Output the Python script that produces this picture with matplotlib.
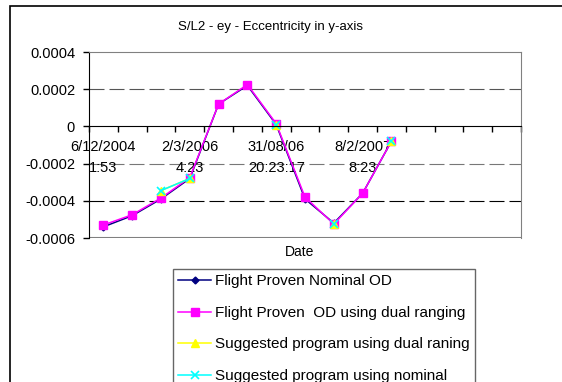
import numpy as np
import matplotlib
matplotlib.use('Agg')
import matplotlib.pyplot as plt
from matplotlib.patches import Rectangle

plt.rcParams['font.family'] = ['Liberation Sans', 'DejaVu Sans']

# Data (15 category slots, only the first 11 hold values)
n_slots = 15
nominal_od = [-0.00054, -0.00048, -0.00039, -0.00028, 0.00012, 0.00022,
              0.00001, -0.00039, -0.00052, -0.00036, -0.00008]
dual_ranging_od = [-0.00053, -0.000475, -0.000385, -0.000275, 0.00012, 0.000225,
                   0.000015, -0.00038, -0.000525, -0.00036, -0.00008]
sugg_dual = [np.nan, np.nan, -0.000345, -0.00028, np.nan, np.nan,
             0.00001, np.nan, -0.000525, np.nan, -0.00008]
sugg_nominal = [np.nan, np.nan, -0.000345, -0.00028, np.nan, np.nan,
                0.00001, np.nan, -0.000525, np.nan, -0.00008]
label_slots = [0, 3, 6, 9]
date_labels = ['6/12/2004\n1:53', '2/3/2006\n4:23', '31/08/06\n20:23:17', '8/2/2007\n8:23']
series_names = ['Flight Proven Nominal OD', 'Flight Proven  OD using dual ranging',
                'Suggested program using dual raning', 'Suggested program using nominal']

W, H = 562, 382
fig = plt.figure(figsize=(W / 100, H / 100), dpi=100)

# outer chart border (chart is cropped on right/bottom)
fig.patches.append(Rectangle((10 / W, -0.2), 1.2, 1.2 - 6 / H,
                             transform=fig.transFigure, fill=False,
                             edgecolor='black', linewidth=1.2))

ax = fig.add_axes([89 / W, 1 - 238 / H, 432 / W, 186 / H])
x = np.arange(len(nominal_od))

ax.plot(x, nominal_od, color='#000080', marker='D', markersize=3.5, linewidth=1.1)
ax.plot(x, dual_ranging_od, color='#FF00FF', marker='s', markersize=5.5, linewidth=1.1)
ax.plot(x, sugg_dual, color='#FFFF00', marker='^', markersize=5.5, linewidth=1.1)
ax.plot(x, sugg_nominal, color='#00FFFF', marker='x', markersize=5.5,
        markeredgewidth=1.2, linewidth=1.1)

ax.set_xlim(-0.5, n_slots - 0.5)
ax.set_ylim(-0.0006, 0.0004)
ax.set_yticks([-0.0006, -0.0004, -0.0002, 0, 0.0002, 0.0004])
ax.set_yticklabels(['-0.0006', '-0.0004', '-0.0002', '0', '0.0002', '0.0004'])
ax.tick_params(axis='y', length=4, width=1, pad=6, labelsize=10.5, direction='out')

# dashed gridlines
ax.axhline(0.0002, color='#555555', linestyle=(0, (13.5, 4.5)), linewidth=0.8, zorder=0)
ax.axhline(-0.0002, color='#777777', linestyle=(0, (13.5, 4.5)), linewidth=0.8, zorder=0)
ax.axhline(-0.0004, color='black', linestyle=(0, (13.5, 4.5)), linewidth=0.8, zorder=0)

# plot area border gray, x axis at zero
for s in ['top', 'right']:
    ax.spines[s].set_color('#808080')
ax.spines['left'].set_color('black')
ax.spines['bottom'].set_position(('data', 0))
ax.spines['bottom'].set_color('black')
ax.axhline(-0.0006, color='#808080', linewidth=1.5, zorder=0)

ax.set_xticks(np.arange(-0.5, n_slots, 1.0))
ax.set_xticklabels([])
ax.tick_params(axis='x', which='major', length=4, width=1, direction='out')
ax.set_xticks(label_slots, minor=True)
ax.set_xticklabels(date_labels, minor=True)
ax.tick_params(axis='x', which='minor', length=0, pad=10, labelsize=10.5)
for t in ax.get_xticklabels(minor=True):
    t.set_linespacing(1.6)

fig.text(270 / W, 1 - 27 / H, 'S/L2 - ey - Eccentricity in y-axis',
         ha='center', va='center', fontsize=9.5)
fig.text(300 / W, 1 - 252 / H, 'Date', ha='center', va='center', fontsize=10)

leg = fig.legend(ax.get_lines(), series_names, loc='upper left',
                 bbox_to_anchor=(173 / W, 1 - 269 / H), fontsize=11,
                 frameon=True, fancybox=False, borderaxespad=0, borderpad=0.35,
                 handlelength=2.15, handletextpad=0.25, labelspacing=1.15)
leg.get_frame().set_edgecolor('#404040')
leg.get_frame().set_linewidth(1)

fig.savefig('out.png', dpi=100)
